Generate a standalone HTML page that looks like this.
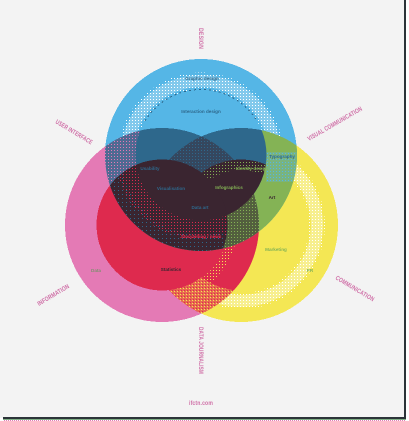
<!DOCTYPE html>
<html>
<head>
<meta charset="utf-8">
<style>
html,body{margin:0;padding:0;background:#f3f3f3;width:409px;height:421px;overflow:hidden}
svg{display:block}
text{font-family:"Liberation Sans",sans-serif}
.axis{font-size:6.5px;font-weight:bold;fill:#cf6ea6;letter-spacing:.2px}
.t{font-size:4.6px;font-weight:bold;text-anchor:middle}
</style>
</head>
<body>
<svg width="409" height="421" viewBox="0 0 409 421" shape-rendering="crispEdges">
<defs>
  <pattern id="whiteDotsSparse" width="3" height="3" patternUnits="userSpaceOnUse"><rect width="1" height="1" fill="#fff"/></pattern>
  <pattern id="pinkOnTeal" width="3" height="3" patternUnits="userSpaceOnUse"><rect width="3" height="3" fill="#4f6a92"/><rect width="1" height="1" fill="#e47ab5"/></pattern>
  <pattern id="blueOnGreen" width="3" height="3" patternUnits="userSpaceOnUse"><rect width="3" height="3" fill="#79b47f"/><rect width="1" height="1" fill="#55b6e6"/></pattern>
  <pattern id="lensDither" width="3" height="3" patternUnits="userSpaceOnUse"><rect width="3" height="3" fill="#e76a50"/><rect width="1" height="1" fill="#f4e754"/><rect x="1" y="2" width="1" height="1" fill="#de2a4e"/></pattern>
  <pattern id="yellowSparse" width="3" height="3" patternUnits="userSpaceOnUse"><rect width="1" height="1" fill="#f4e754"/></pattern>
  <pattern id="apexDither" width="3" height="3" patternUnits="userSpaceOnUse"><rect width="3" height="3" fill="#35475e"/><rect width="1" height="1" fill="#2e688c"/></pattern>
  <pattern id="greenDither" width="3" height="3" patternUnits="userSpaceOnUse"><rect width="3" height="3" fill="#535f3e"/><rect width="1" height="1" fill="#84b355"/></pattern>
  <pattern id="greenSparse" width="3" height="3" patternUnits="userSpaceOnUse"><rect width="1" height="1" fill="#84b355"/></pattern>
  <pattern id="redSparse" width="3" height="3" patternUnits="userSpaceOnUse"><rect width="1" height="1" fill="#de2a4e"/></pattern>
  <pattern id="blueSparse" width="4" height="4" patternUnits="userSpaceOnUse"><rect x="2" y="2" width="1" height="1" fill="#2e688c"/></pattern>
  <pattern id="frameDots" width="2" height="2" patternUnits="userSpaceOnUse"><rect width="1" height="2" fill="#e47ab5"/></pattern>

  <clipPath id="cB"><circle cx="201" cy="155" r="96"/></clipPath>
  <clipPath id="cP"><circle cx="162" cy="225" r="97"/></clipPath>
  <clipPath id="cY"><circle cx="241" cy="225" r="97"/></clipPath>
  <clipPath id="iB"><circle cx="201" cy="155" r="65.5"/></clipPath>
  <clipPath id="iP"><circle cx="162" cy="225" r="65.5"/></clipPath>
  <clipPath id="greenPatch"><rect x="266" y="152" width="32" height="30"/></clipPath>
</defs>

<rect width="409" height="421" fill="#f3f3f3"/>

<!-- outer circles -->
<circle cx="162" cy="225" r="97" fill="#e47ab5"/>
<circle cx="241" cy="225" r="97" fill="#f4e754"/>
<g>
  <circle cx="241" cy="225" r="76" fill="none" stroke="#f7ef8f" stroke-width="12"/>
  <circle cx="241" cy="225" r="76" fill="none" stroke="url(#whiteDotsSparse)" stroke-width="16"/>
</g>
<circle cx="201" cy="155" r="96" fill="#55b6e6"/>
<g>
  <circle cx="201" cy="155" r="74" fill="none" stroke="#82c9ec" stroke-width="12"/>
  <circle cx="201" cy="155" r="74" fill="none" stroke="url(#whiteDotsSparse)" stroke-width="17"/>
</g>

<!-- pink / yellow overlap -->
<g clip-path="url(#cP)">
  <circle cx="241" cy="225" r="97" fill="url(#lensDither)"/>
  <g clip-path="url(#cY)">
    <circle cx="241" cy="225" r="65.5" fill="#de2a4e"/>
    <circle cx="162" cy="225" r="71" fill="none" stroke="url(#yellowSparse)" stroke-width="9"/>
  </g>
</g>
<circle cx="162" cy="225" r="65.5" fill="#de2a4e"/>

<!-- blue / yellow, blue / pink overlaps -->
<g clip-path="url(#cB)">
  <circle cx="241" cy="225" r="97" fill="#84b355"/>
  <g clip-path="url(#cY)">
    <g clip-path="url(#greenPatch)">
      <rect x="266" y="152" width="32" height="30" fill="url(#blueOnGreen)"/>
    </g>
  </g>
  <circle cx="162" cy="225" r="97" fill="url(#pinkOnTeal)"/>
</g>

<!-- inner blue teal -->
<g clip-path="url(#iB)">
  <circle cx="162" cy="225" r="97" fill="#2e688c"/>
  <circle cx="241" cy="225" r="97" fill="#2e688c"/>
  <g clip-path="url(#cP)"><circle cx="241" cy="225" r="97" fill="url(#apexDither)"/></g>
</g>

<!-- inner blue dotted outline -->
<path d="M145 121 A65.5 65.5 0 0 1 257 121" fill="none" stroke="#2e688c" stroke-width="1" stroke-dasharray="2 3"/>

<!-- maroon core -->
<g clip-path="url(#cB)">
  <g clip-path="url(#cP)"><circle cx="241" cy="225" r="65.5" fill="url(#greenDither)"/></g>
  <g clip-path="url(#iB)">
    <circle cx="241" cy="225" r="65.5" fill="#3a2530"/>
    <circle cx="241" cy="225" r="60" fill="none" stroke="url(#greenSparse)" stroke-width="10"/>
  </g>
  <circle cx="162" cy="225" r="65.5" fill="#3a2530"/>
  <g clip-path="url(#iP)">
    <circle cx="201" cy="155" r="75" fill="none" stroke="url(#redSparse)" stroke-width="20"/>
    <circle cx="201" cy="155" r="88" fill="none" stroke="url(#blueSparse)" stroke-width="16"/>
  </g>
  <g clip-path="url(#iB)"><g clip-path="url(#iP)"><rect x="96" y="150" width="210" height="120" fill="#3a2530"/></g></g>
</g>

<!-- inner tiny labels -->
<g shape-rendering="auto">
  <text class="t" x="202" y="80" fill="#2e688c">Graphic design</text>
  <text class="t" x="201" y="113" fill="#2e688c">Interaction design</text>
  <text class="t" x="150" y="170" fill="#2e688c">Usability</text>
  <text class="t" x="171" y="190" fill="#2e688c">Visualisation</text>
  <text class="t" x="229" y="189" fill="#84b355">Infographics</text>
  <text class="t" x="252" y="170" fill="#84b355">Identity design</text>
  <text class="t" x="282" y="158" fill="#2e688c">Typography</text>
  <text class="t" x="272" y="199" fill="#3a2530">Art</text>
  <text class="t" x="201" y="238" fill="#de2a4e">Storytelling / news</text>
  <text class="t" x="276" y="251" fill="#84b355">Marketing</text>
  <text class="t" x="171" y="271" fill="#3a2530">Statistics</text>
  <text class="t" x="96" y="272" fill="#7f8f70">Data</text>
  <text class="t" x="310" y="272" fill="#84b355">PR</text>
  <text class="t" x="200" y="209" fill="#2e688c">Data art</text>
</g>

<!-- axis labels -->
<text class="axis" transform="translate(199,28) rotate(90)" textLength="21" lengthAdjust="spacingAndGlyphs">DESIGN</text>
<text class="axis" transform="translate(55,123) rotate(31)" textLength="42" lengthAdjust="spacingAndGlyphs">USER INTERFACE</text>
<text class="axis" transform="translate(309,141) rotate(-30)" textLength="62" lengthAdjust="spacingAndGlyphs">VISUAL COMMUNICATION</text>
<text class="axis" transform="translate(39,306) rotate(-31)" textLength="36" lengthAdjust="spacingAndGlyphs">INFORMATION</text>
<text class="axis" transform="translate(335,279) rotate(31)" textLength="44" lengthAdjust="spacingAndGlyphs">COMMUNICATION</text>
<text class="axis" transform="translate(199,327) rotate(90)" textLength="47" lengthAdjust="spacingAndGlyphs">DATA JOURNALISM</text>
<text class="axis" x="189" y="405" textLength="24" lengthAdjust="spacingAndGlyphs">ifctn.com</text>

<!-- frame -->
<g>
  <rect x="405" y="0" width="4" height="421" fill="#fff"/>
  <rect x="0" y="418" width="409" height="3" fill="#fff"/>
  <rect x="404" y="0" width="2" height="419" fill="#2b3338"/>
  <rect x="3" y="417" width="403" height="2" fill="#2b3338"/>
  <rect x="3" y="419" width="403" height="1" fill="#7fae85"/>
  <rect x="3" y="420" width="403" height="1" fill="url(#frameDots)"/>
</g>
</svg>
</body>
</html>
